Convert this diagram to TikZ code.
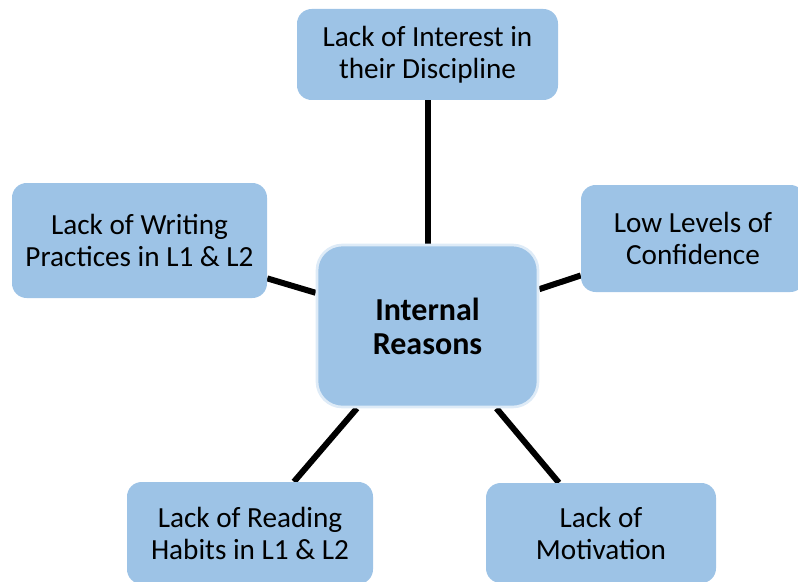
\documentclass[tikz,border=0pt]{standalone}
\usepackage{fontspec}
\setmainfont{Carlito}
\usepackage{tikz}
\usetikzlibrary{backgrounds}

\definecolor{boxblue}{HTML}{9DC3E6}
\definecolor{rimblue}{HTML}{DEEBF7}

\tikzset{
  reason/.style={rectangle,rounded corners=11pt,fill=boxblue,inner sep=0pt,
    align=center,font=\fontsize{21.9}{24}\selectfont},
  hub/.style={reason,rounded corners=19pt,draw=rimblue,line width=2pt,font=\fontsize{24}{25.5}\selectfont\bfseries},
  spoke/.style={line width=4.5pt,black}
}

\begin{document}
\begin{tikzpicture}[x=0.75pt,y=-0.75pt]
\clip (0,0) rectangle (798,581);
\useasboundingbox (0,0) rectangle (798,581);
%
\node [hub,minimum width=165.75pt,minimum height=121.5pt] (hub) at (427.5,326) {Internal\\Reasons};
%
\node [reason,minimum width=195.75pt,minimum height=68.25pt] (interest) at (427.5,54.5) {Lack of Interest in\\their Discipline};
\node [reason,minimum width=168pt,minimum height=80.25pt] (confidence) at (693,238.5) {Low Levels of\\Confidence};
\node [reason,minimum width=191.25pt,minimum height=86.25pt] (writing) at (139.5,240.5) {Lack of Writing\\Practices in L1 \& L2};
\node [reason,minimum width=184.5pt,minimum height=76.5pt] (reading) at (250,533) {Lack of Reading\\Habits in L1 \& L2};
\node [reason,minimum width=172.5pt,minimum height=75pt] (motivation) at (601,533) {Lack of\\Motivation};
%
\begin{scope}[on background layer]
\draw [spoke] (hub) -- (interest);
\draw [spoke] (hub) -- (confidence);
\draw [spoke] (hub) -- (writing);
\draw [spoke] (hub) -- (reading);
\draw [spoke] (hub) -- (motivation);
\end{scope}
\end{tikzpicture}
\end{document}
